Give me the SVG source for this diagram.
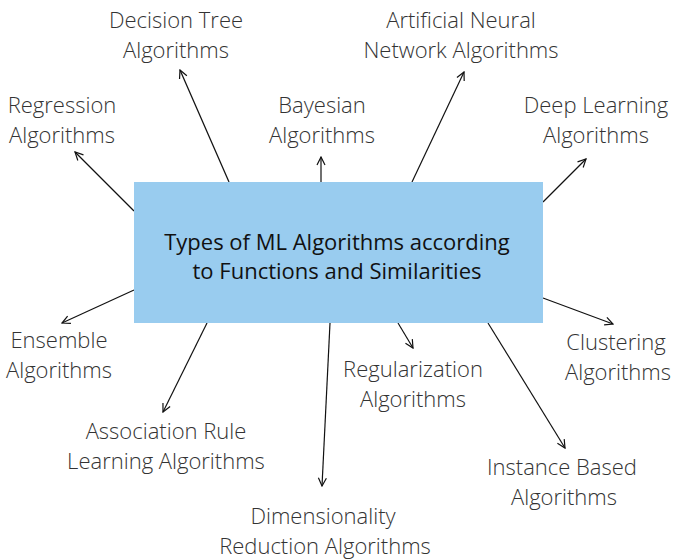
<svg xmlns="http://www.w3.org/2000/svg" width="675" height="559" viewBox="0 0 675 559">
<defs>
<style>
.lbl{font-family:"Open Sans","Liberation Sans",sans-serif;font-weight:300;font-size:22px;fill:#333;text-anchor:middle}
.ttl{font-family:"Open Sans","Liberation Sans",sans-serif;font-weight:400;font-size:22px;fill:#111;text-anchor:middle}
.con{stroke:#111;stroke-width:1.2;fill:none;marker-end:url(#ah)}
</style>
<marker id="ah" viewBox="0 0 10 10" refX="9" refY="5" markerWidth="10" markerHeight="10" markerUnits="userSpaceOnUse" orient="auto">
<path d="M1,1 L9,5 L1,9" fill="none" stroke="#111" stroke-width="1.2"/>
</marker>
</defs>
<rect width="675" height="559" fill="#fff"/>
<g id="connectors">
<line class="con" x1="134" y1="211" x2="75" y2="152"/>
<line class="con" x1="229" y1="182" x2="180" y2="70"/>
<line class="con" x1="321" y1="182" x2="321" y2="157"/>
<line class="con" x1="412" y1="182" x2="464" y2="72"/>
<line class="con" x1="543" y1="202" x2="586" y2="159"/>
<line class="con" x1="543" y1="298" x2="613" y2="324"/>
<line class="con" x1="488" y1="323" x2="565" y2="448"/>
<line class="con" x1="398" y1="323" x2="413" y2="348"/>
<line class="con" x1="330" y1="323" x2="322" y2="486"/>
<line class="con" x1="207" y1="323" x2="163" y2="412"/>
<line class="con" x1="134" y1="290" x2="62" y2="323"/>
</g>
<g id="center">
<rect x="134" y="182" width="409" height="141" fill="#99CCEF"/>
<text class="ttl" x="337" y="250">Types of ML Algorithms according</text>
<text class="ttl" x="337" y="279">to Functions and Similarities</text>
</g>
<g id="decision-tree"><text class="lbl" x="176" y="28">Decision Tree</text><text class="lbl" x="176" y="58">Algorithms</text></g>
<g id="regression"><text class="lbl" x="62" y="113">Regression</text><text class="lbl" x="62" y="143">Algorithms</text></g>
<g id="bayesian"><text class="lbl" x="322" y="113">Bayesian</text><text class="lbl" x="322" y="143">Algorithms</text></g>
<g id="ann"><text class="lbl" x="461" y="28">Artificial Neural</text><text class="lbl" x="461" y="58">Network Algorithms</text></g>
<g id="deep-learning"><text class="lbl" x="596" y="113">Deep Learning</text><text class="lbl" x="596" y="143">Algorithms</text></g>
<g id="ensemble"><text class="lbl" x="59" y="348">Ensemble</text><text class="lbl" x="59" y="378">Algorithms</text></g>
<g id="association"><text class="lbl" x="166" y="439">Association Rule</text><text class="lbl" x="166" y="469">Learning Algorithms</text></g>
<g id="dimensionality"><text class="lbl" x="323" y="524">Dimensionality</text><text class="lbl" x="325" y="554">Reduction Algorithms</text></g>
<g id="regularization"><text class="lbl" x="413" y="377">Regularization</text><text class="lbl" x="413" y="407">Algorithms</text></g>
<g id="clustering"><text class="lbl" x="616" y="350">Clustering</text><text class="lbl" x="618" y="380">Algorithms</text></g>
<g id="instance"><text class="lbl" x="562" y="475">Instance Based</text><text class="lbl" x="564" y="505">Algorithms</text></g>
</svg>
